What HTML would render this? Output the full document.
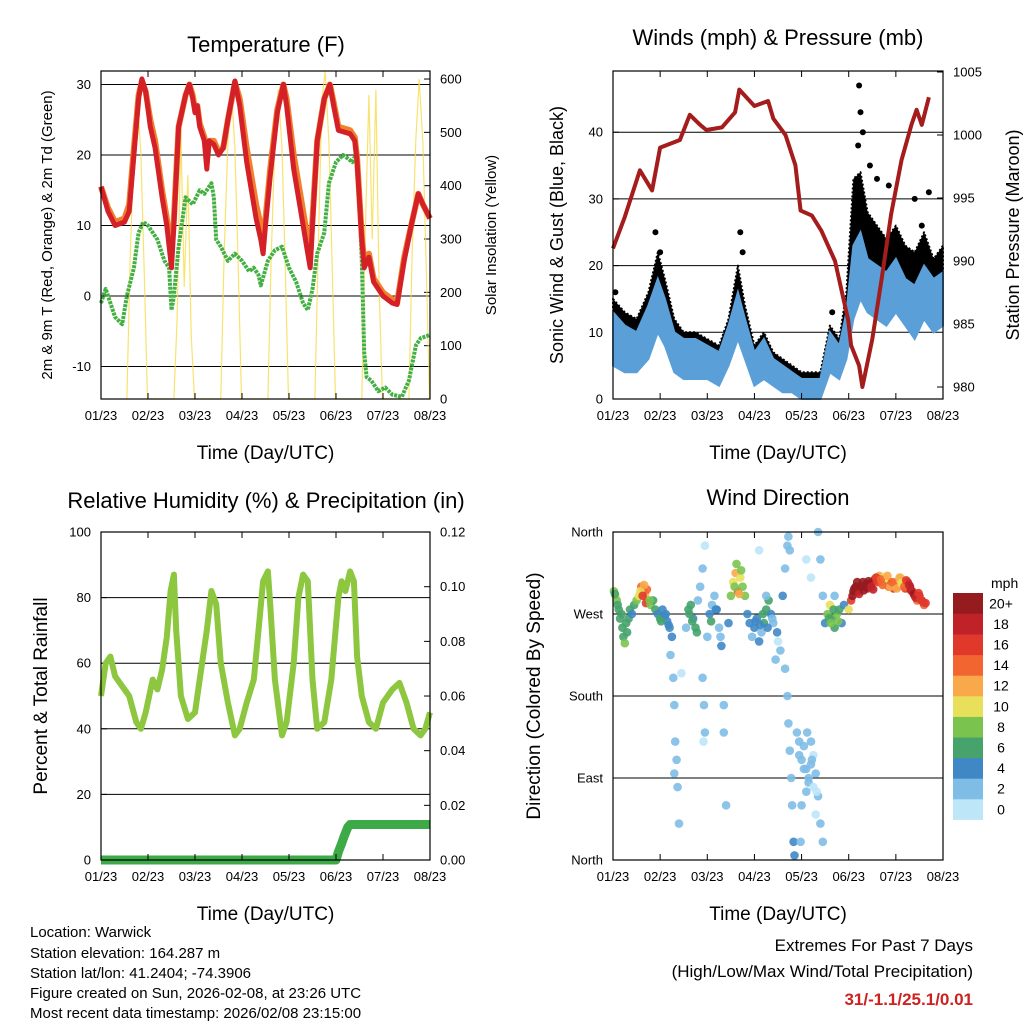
<!DOCTYPE html>
<html><head><meta charset="utf-8">
<style>
html,body{margin:0;padding:0;background:#fff;}
svg{display:block;font-family:"Liberation Sans",Arial,sans-serif;}
</style></head>
<body>
<svg id="s" width="1024" height="1024" viewBox="0 0 1024 1024" xmlns="http://www.w3.org/2000/svg">
<rect width="1024" height="1024" fill="#fff"/>
<g id="g1"></g>
<g id="g2"></g>
<g id="g3"></g>
<g id="g4"></g>
<g id="cb"></g>
<g font-size="15" fill="#000">
<text x="30" y="937">Location: Warwick</text>
<text x="30" y="958">Station elevation: 164.287 m</text>
<text x="30" y="978">Station lat/lon: 41.2404; -74.3906</text>
<text x="30" y="998">Figure created on Sun, 2026-02-08, at 23:26 UTC</text>
<text x="30" y="1018">Most recent data timestamp: 2026/02/08 23:15:00</text>
</g>
<g text-anchor="end">
<text x="973" y="951" font-size="17">Extremes For Past 7 Days</text>
<text x="973" y="977" font-size="17">(High/Low/Max Wind/Total Precipitation)</text>
<text x="973" y="1005" font-size="17" font-weight="bold" fill="#cc2222">31/-1.1/25.1/0.01</text>
</g>
</svg>
<script>
// ---------- data ----------
const dayLabels=["01/23","02/23","03/23","04/23","05/23","06/23","07/23","08/23"];
const tempT=[0,0.15,0.3,0.5,0.6,0.7,0.8,0.87,0.95,1.05,1.15,1.3,1.4,1.5,1.55,1.65,1.8,1.88,1.95,2.0,2.05,2.1,2.2,2.25,2.3,2.4,2.5,2.6,2.7,2.85,2.95,3.1,3.2,3.3,3.4,3.45,3.5,3.6,3.75,3.88,3.95,4.1,4.25,4.4,4.45,4.5,4.6,4.75,4.87,4.95,5.05,5.3,5.4,5.45,5.55,5.6,5.7,5.8,6.0,6.2,6.3,6.45,6.6,6.75,6.85,7.0];
const tempRed=[15.5,12,10,10.5,12,20,28,30.8,29,24,21,14,10,4,10,24,28.5,30,28,26,27,24,22,18,22,21.5,20,21,25,30.5,27,19,15,11,8,6,10,17,26,30,27,18,12,6,4,10,22,28,30,27,23.5,23,22,19,8,4,5.5,2,0,-1,-1.2,5,10,14.5,13,11];
const tempOrange=[15.5,12.5,10.5,11,13,21,28.5,30.5,29,25,22,15,11,6,11,24,28.5,30,28.5,26.5,27,24.5,22.5,19,22,22,20.5,21,25,30.3,28,21,17,13,10,8,11,18,26.5,30,28,20,14,8,5.5,11,22,28,30,27.5,24,23.5,22.5,19.5,8.5,5,6,2.5,0.5,-0.5,-1,5.5,10,14.5,13,11];
const tdT=[0,0.1,0.3,0.45,0.55,0.7,0.8,0.9,1.0,1.1,1.2,1.35,1.45,1.5,1.55,1.65,1.8,1.95,2.1,2.2,2.35,2.4,2.45,2.55,2.7,2.85,3.0,3.15,3.25,3.35,3.4,3.55,3.7,3.85,4.0,4.15,4.3,4.4,4.5,4.6,4.75,4.85,5.0,5.15,5.25,5.35,5.45,5.55,5.6,5.65,5.75,5.9,6.05,6.2,6.4,6.55,6.7,6.8,7.0];
const tdVal=[-1,1,-3,-4,0,4,9,10.5,10,9,8,5,4,-2,0,7,14,13,15,14.5,16,14,8,7,5,6,5,3.5,4,3,1.5,5,6.5,7,4,2,-1,-2,1,6,9,16,19,20,19.5,19,20.5,5,-8,-11.5,-12,-13.5,-13,-14,-14.3,-12,-7,-6,-5.5];
const solarT=[0.55,0.62,0.7,0.77,0.85,0.92,0.99,1.55,1.62,1.7,1.77,1.85,1.92,1.99,2.55,2.62,2.7,2.77,2.85,2.92,2.99,3.55,3.62,3.7,3.77,3.85,3.92,3.99,4.55,4.62,4.7,4.77,4.85,4.92,4.99,5.55,5.62,5.7,5.77,5.85,5.92,5.99,6.55,6.62,6.7,6.77,6.85,6.92,6.99];
const solarVal=[0,260,470,570,460,240,0,0,150,500,210,420,120,0,0,270,480,585,470,250,0,0,260,480,580,470,250,0,0,270,560,615,480,250,0,0,300,570,300,580,200,0,0,270,490,600,480,250,0];

const presT=[0,0.25,0.57,0.83,1.0,1.42,1.63,1.85,1.98,2.31,2.59,2.68,3.0,3.29,3.4,3.66,3.87,3.98,4.22,4.42,4.71,4.99,5.05,5.22,5.29,5.5,5.7,5.9,6.12,6.33,6.44,6.55,6.7];
const presVal=[991,993.5,997.2,995.6,999,999.6,1001.6,1000.8,1000.4,1000.6,1001.8,1003.6,1002.3,1002.7,1001.3,1000,997.6,994,993.6,992.4,990,985.3,983.3,981.7,980,983.8,988.6,993.7,998,1000.8,1002,1000.8,1003];
const windT=[0,0.25,0.5,0.75,0.95,1.1,1.3,1.5,1.75,2.0,2.25,2.45,2.65,2.8,3.0,3.2,3.4,3.6,3.8,4.0,4.2,4.4,4.6,4.8,4.95,5.1,5.25,5.4,5.6,5.8,6.0,6.2,6.4,6.6,6.8,7.0];
const windLo=[5,4,4,6,10,8,4,3,3,3,2,5,9,6,2,3,2,1,1,0,0,0,4,3,6,12,15,13,12,11,13,11,9,12,10,11];
const windHi=[13,11,10,14,18,15,10,9,9,8,7,11,16,12,7,9,6,5,4,3,3,3,10,8,13,23,25,21,20,19,21,18,17,20,18,19];
const gustLo=[8,7,7,10,14,11,6,5,5,5,4,7,13,9,4,5,3,2,2,1,1,1,6,5,9,18,20,16,15,15,17,14,12,16,14,15];
const gustHi=[15,13,12,16,22,18,12,10,10,9,8,12,20,14,8,10,7,6,5,4,4,4,11,9,16,33,34,28,26,24,26,23,22,25,21,23];
const gustPeakT=[0.05,0.9,1.0,2.7,2.75,4.65,5.2,5.22,5.25,5.3,5.45,5.6,5.85,6.4,6.7,6.55];
const gustPeakV=[16,25,22,25,22,13,38,47,43,40,35,33,32,30,31,26];

const rhT=[0,0.1,0.2,0.3,0.45,0.6,0.75,0.85,0.95,1.1,1.2,1.3,1.4,1.48,1.55,1.6,1.7,1.85,2.0,2.1,2.25,2.35,2.45,2.55,2.7,2.85,2.95,3.1,3.25,3.35,3.45,3.55,3.6,3.7,3.85,3.95,4.1,4.2,4.3,4.4,4.5,4.6,4.75,4.9,5.05,5.12,5.2,5.3,5.38,5.45,5.55,5.7,5.85,6.0,6.2,6.35,6.5,6.65,6.8,6.9,7.0];
const rhVal=[50,60,62,56,53,50,42,40,45,55,52,58,68,82,87,70,50,43,45,55,70,82,78,60,48,38,40,48,55,70,85,88,78,55,38,42,60,80,87,85,55,40,42,55,80,85,82,88,85,62,50,42,40,48,52,54,48,40,38,40,45];
const rainT=[0,5.0,5.05,5.12,5.18,5.25,5.3,7];
const rainVal=[0,0,0.003,0.006,0.009,0.012,0.013,0.013];

const dirT=[0.02,0.05,0.08,0.12,0.15,0.2,0.22,0.25,0.3,0.33,0.36,0.45,0.5,0.55,0.6,0.65,0.68,0.72,0.75,0.7,0.8,0.85,0.9,0.95,1.0,1.05,1.1,1.15,1.2,1.25,1.22,1.28,1.3,1.32,1.35,1.3,1.37,1.4,1.45,1.55,1.6,1.65,1.7,1.75,1.8,1.85,1.9,1.95,1.9,1.93,1.95,1.92,2.0,2.05,2.1,2.15,2.2,2.25,2.3,2.35,2.35,2.4,2.45,2.5,2.55,2.6,2.62,2.65,2.7,2.75,2.8,2.85,2.9,2.95,3.0,3.05,3.1,3.15,3.2,3.25,3.3,3.35,3.4,3.45,3.5,3.55,3.1,3.25,3.6,3.65,3.7,3.72,3.75,3.65,3.7,3.72,3.75,3.78,3.8,3.83,3.85,3.9,3.95,4.0,4.05,4.1,4.15,4.2,4.25,4.3,4.35,4.4,4.45,4.1,4.2,4.35,4.4,4.45,4.5,4.55,4.6,4.65,4.7,4.75,4.8,4.85,4.9,4.7,5.0,5.05,5.1,5.15,5.2,5.25,5.3,5.35,5.4,5.45,5.5,5.55,5.6,5.65,5.7,5.75,5.8,5.85,5.9,5.95,6.0,6.05,6.1,6.15,6.2,6.25,6.3,6.35,6.4,6.45,6.5,6.55,6.6,6.63,
 0.04,0.1,0.18,0.28,0.4,0.58,0.63,0.66,0.78,1.02,1.12,1.18,1.62,1.68,1.78,2.08,2.18,2.28,2.58,2.68,2.72,3.02,3.12,3.18,3.28,3.38,3.48,3.95,4.05,4.15,4.25,4.0,4.1,4.2,4.3,4.58,4.62,4.68,4.78,5.08,5.12,5.18,5.22,5.28,5.32,5.38,5.42,5.48,5.52,5.58,5.62,5.68,5.72,5.82,5.88,5.92,6.02,6.08,6.12,6.18,6.22,6.28,6.32,6.38,6.42,6.48,6.52,6.58,4.12,4.22,4.32,3.98];
const dirDeg=[295,290,285,275,265,255,245,238,250,265,275,280,285,290,300,295,292,297,285,282,280,285,275,270,265,275,268,262,255,245,225,200,170,130,110,95,80,40,205,255,275,280,265,255,285,300,320,345,200,170,140,130,245,270,280,290,275,255,235,170,140,60,260,290,305,315,325,295,310,300,290,270,260,245,255,265,240,250,260,275,285,270,260,220,240,230,340,290,290,320,345,355,340,210,180,150,120,90,60,20,5,140,130,110,125,100,85,130,115,95,70,40,20,330,310,360,330,290,260,270,280,265,255,270,275,260,280,290,275,285,295,300,295,300,305,300,298,302,305,308,310,312,305,310,306,300,303,298,305,300,310,302,298,305,300,295,290,285,290,285,280,282,
 292,280,270,260,270,295,290,302,285,262,270,258,270,262,250,262,275,245,300,292,318,262,258,270,255,265,250,115,100,90,80,60,75,105,50,265,260,275,262,290,298,305,292,300,296,303,306,300,297,310,305,308,302,312,300,305,298,310,304,300,307,302,296,292,288,293,286,283,140,110,75,20];
const dirSpd=[9,10,8,6,6,7,6,8,6,7,6,6,9,10,14,16,12,15,10,17,8,6,6,5,6,4,5,4,4,4,3,2,3,3,2,3,2,3,1,2,6,7,5,6,3,2,2,1,3,2,2,1,2,4,3,2,4,3,4,2,3,3,4,8,10,13,8,14,11,9,8,5,4,3,4,5,4,3,6,7,6,4,3,2,1,3,1,2,4,3,2,2,3,3,2,3,2,2,3,4,4,2,2,2,3,2,2,2,1,2,2,2,2,1,1,2,3,3,5,9,10,7,6,8,6,5,4,3,10,16,20,21,18,22,21,20,19,21,18,16,14,12,13,11,10,14,16,17,12,14,10,13,16,19,20,17,16,15,18,17,15,16,
 7,6,7,6,5,11,16,13,9,6,4,5,7,6,7,6,4,3,9,12,8,4,5,6,4,3,4,2,2,2,1,2,3,2,1,7,8,6,9,20,21,22,19,20,21,22,20,18,19,17,16,14,15,13,12,15,13,12,11,14,16,18,19,21,18,17,16,17,2,2,1,3];

const cbColors=["#bde6f8","#80bde6","#3f88c5","#46a36b","#7bc34f","#e8e05a","#f9a94a","#f26530","#e0382b","#c0222a","#961b1e"];
const cbLabels=["0","2","4","6","8","10","12","14","16","18","20+"];

// ---------- helpers ----------
const NS="http://www.w3.org/2000/svg";
function mk(parent,tag,attrs,txt){const e=document.createElementNS(NS,tag);for(const k in attrs)e.setAttribute(k,attrs[k]);if(txt!==undefined)e.textContent=txt;parent.appendChild(e);return e;}
function pts(ts,vs,fx,fy){return ts.map((t,i)=>fx(t).toFixed(1)+","+fy(vs[i]).toFixed(1)).join(" ");}
function band(ts,lo,hi,fx,fy){const a=ts.map((t,i)=>fx(t).toFixed(1)+","+fy(hi[i]).toFixed(1));const b=ts.map((t,i)=>fx(t).toFixed(1)+","+fy(lo[i]).toFixed(1)).reverse();return a.concat(b).join(" ");}
function frame(g,B,sx){
  for(let d=0;d<=7;d++){const x=sx(d);
    mk(g,"line",{x1:x,y1:B.y1,x2:x,y2:B.y1-6,stroke:"#000","stroke-width":1});
    mk(g,"line",{x1:x,y1:B.y0,x2:x,y2:B.y0+6,stroke:"#000","stroke-width":1});
    const t=mk(g,"text",{x:x,y:B.y1+21,"font-size":13,"text-anchor":"middle"},dayLabels[d]);
    
    
  }
  const r=mk(g,"rect",{x:B.x0,y:B.y0,width:B.x1-B.x0,height:B.y1-B.y0,fill:"none",stroke:"#000","stroke-width":1.2});
  
  
  const xt=mk(g,"text",{x:(B.x0+B.x1)/2,y:B.y1+60,"font-size":19,"text-anchor":"middle"},"Time (Day/UTC)");
  
  
}
function yAxis(g,B,vals,fy,labels,side,grid){
  vals.forEach((v,i)=>{const y=fy(v);
    if(grid)mk(g,"line",{x1:B.x0,y1:y,x2:B.x1,y2:y,stroke:"#000","stroke-width":1});
    const x=side==="L"?B.x0:B.x1;const dx=side==="L"?6:-6;
    mk(g,"line",{x1:x,y1:y,x2:x+dx,y2:y,stroke:"#000","stroke-width":1});
    const t=mk(g,"text",{x:side==="L"?B.x0-10:B.x1+10,y:y+4.5,"font-size":13,"text-anchor":side==="L"?"end":"start"},labels[i]);
    
    
  });
}
function title(g,x,y,s,name){const t=mk(g,"text",{x:x,y:y,"font-size":22,"text-anchor":"middle"},s);}
function rtitle(g,x,y,s,fs,name){const t=mk(g,"text",{x:0,y:0,"font-size":fs,"text-anchor":"middle",transform:`translate(${x},${y}) rotate(-90)`},s);}

// ---------- panel 1 : temperature ----------
(function(){
 const g=document.getElementById("g1");const B={x0:101,x1:430,y0:71,y1:399};
 const sx=t=>B.x0+t/7*(B.x1-B.x0);const yT=v=>296-v*7.05;const yS=v=>399-v*0.5333;
 yAxis(g,B,[-10,0,10,20,30],yT,["-10","0","10","20","30"],"L",true);
 yAxis(g,B,[0,100,200,300,400,500,600],yS,["0","100","200","300","400","500","600"],"R",false);
 let e=mk(g,"polyline",{points:pts(solarT,solarVal,sx,yS),fill:"none",stroke:"#f7dc4a","stroke-width":1.2,opacity:0.8});
 
 e=mk(g,"polyline",{points:pts(tdT,tdVal,sx,yT),fill:"none",stroke:"#44b043","stroke-width":4,"stroke-dasharray":"3 1","stroke-linejoin":"round"});
 
 e=mk(g,"polyline",{points:pts(tempT,tempOrange,sx,yT),fill:"none",stroke:"#f27f2e","stroke-width":6,"stroke-linejoin":"round"});
 
 e=mk(g,"polyline",{points:pts(tempT,tempRed,sx,yT),fill:"none",stroke:"#d42127","stroke-width":5,"stroke-linejoin":"round"});
 
 frame(g,B,sx);
 title(g,266,52,"Temperature (F)","temperature-title");
 rtitle(g,52,235,"2m & 9m T (Red, Orange) & 2m Td (Green)",15,"temperature-y-axis-title");
 rtitle(g,496,235,"Solar Insolation (Yellow)",15,"solar-y-axis-title");
})();

// ---------- panel 2 : winds ----------
(function(){
 const g=document.getElementById("g2");const B={x0:613,x1:943,y0:71,y1:399};
 const sx=t=>B.x0+t/7*(B.x1-B.x0);const yW=v=>399-v*6.67;const yP=p=>387-(p-980)*12.6;
 yAxis(g,B,[0,10,20,30,40],yW,["0","10","20","30","40"],"L",true);
 yAxis(g,B,[980,985,990,995,1000,1005],yP,["980","985","990","995","1000","1005"],"R",false);
 let e=mk(g,"polygon",{points:band(windT,gustLo,gustHi,sx,yW),fill:"#000",stroke:"#000","stroke-width":2,"stroke-linejoin":"round","stroke-dasharray":"2 2"});
 
 e=mk(g,"polygon",{points:band(windT,windLo,windHi,sx,yW),fill:"#5a9fd8",stroke:"#5a9fd8","stroke-width":2});
 
 gustPeakT.forEach((t,i)=>{const c=mk(g,"circle",{cx:sx(t),cy:yW(gustPeakV[i]),r:3,fill:"#000"});
   });
 e=mk(g,"polyline",{points:pts(presT,presVal,sx,yP),fill:"none",stroke:"#a51c1c","stroke-width":4,"stroke-linejoin":"round"});
 
 frame(g,B,sx);
 title(g,778,45,"Winds (mph) & Pressure (mb)","winds-title");
 rtitle(g,563,235,"Sonic Wind & Gust (Blue, Black)",18,"wind-y-axis-title");
 rtitle(g,1019,235,"Station Pressure (Maroon)",18,"pressure-y-axis-title");
})();

// ---------- panel 3 : RH ----------
(function(){
 const g=document.getElementById("g3");const B={x0:101,x1:430,y0:532,y1:860};
 const sx=t=>B.x0+t/7*(B.x1-B.x0);const yR=v=>860-v*3.28;const yPr=v=>860-v*2733;
 yAxis(g,B,[0,20,40,60,80,100],yR,["0","20","40","60","80","100"],"L",true);
 yAxis(g,B,[0,0.02,0.04,0.06,0.08,0.1,0.12],yPr,["0.00","0.02","0.04","0.06","0.08","0.10","0.12"],"R",false);
 let e=mk(g,"polyline",{points:pts(rhT,rhVal,sx,yR),fill:"none",stroke:"#8dc63f","stroke-width":6,"stroke-linejoin":"round"});
 
 e=mk(g,"polyline",{points:pts(rainT,rainVal,sx,yPr),fill:"none",stroke:"#3daa47","stroke-width":9,"stroke-linejoin":"round"});
 
 frame(g,B,sx);
 title(g,266,508,"Relative Humidity (%) & Precipitation (in)","humidity-title");
 rtitle(g,47,696,"Percent & Total Rainfall",19,"humidity-y-axis-title");
})();

// ---------- panel 4 : wind direction ----------
(function(){
 const g=document.getElementById("g4");const B={x0:613,x1:943,y0:532,y1:860};
 const sx=t=>B.x0+t/7*(B.x1-B.x0);const yD=d=>860-d*0.911;
 yAxis(g,B,[0,90,180,270,360],yD,["North","East","South","West","North"],"L",true);
 dirT.forEach((t,i)=>{const bin=Math.min(10,Math.max(0,Math.floor(dirSpd[i]/2)));
   const c=mk(g,"circle",{cx:sx(t).toFixed(1),cy:yD(dirDeg[i]).toFixed(1),r:4.3,fill:cbColors[bin],opacity:0.9});
   
   });
 frame(g,B,sx);
 title(g,778,505,"Wind Direction","wind-direction-title");
 rtitle(g,540,696,"Direction (Colored By Speed)",19,"direction-y-axis-title");
})();

// ---------- colorbar ----------
(function(){
 const g=document.getElementById("cb");const top=593,h=20.6;
 mk(g,"text",{x:991,y:588,"font-size":14},"mph");
 cbColors.forEach((c,i)=>{const y=top+(10-i)*h;
   const r=mk(g,"rect",{x:953,y:y,width:30,height:h+0.3,fill:c});
   
   const t=mk(g,"text",{x:1001,y:y+h/2+5,"font-size":14,"text-anchor":"middle"},cbLabels[i]);
   });
})();
</script>
</body></html>
